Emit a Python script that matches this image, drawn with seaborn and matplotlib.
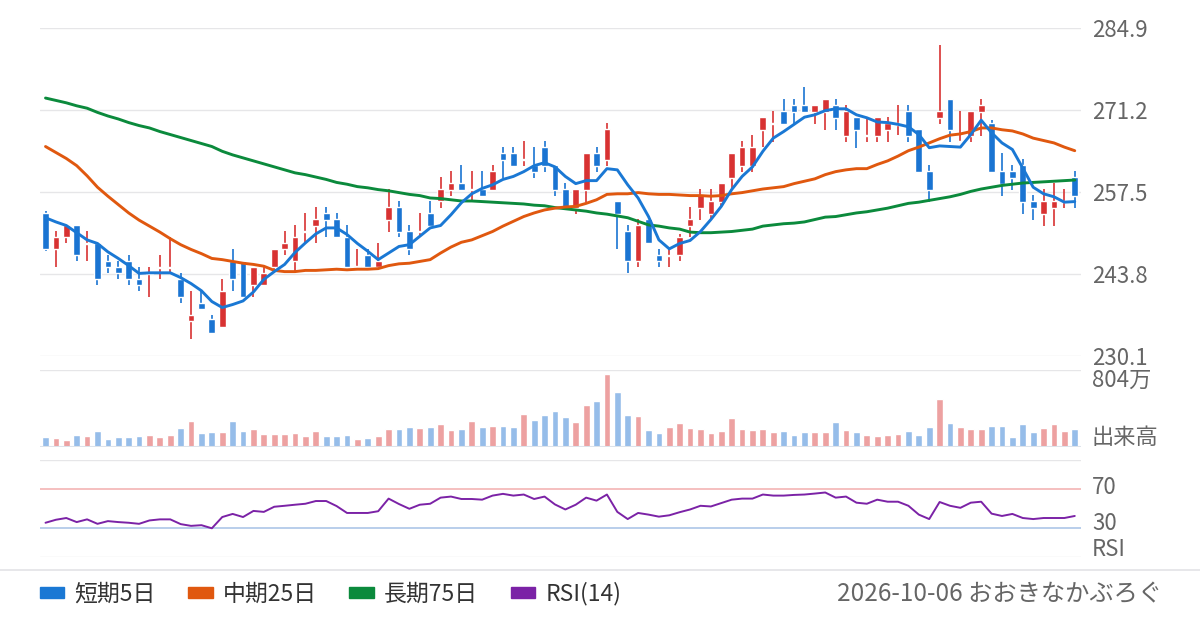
import numpy as np
import seaborn as sns
import matplotlib.pyplot as plt
from matplotlib.patches import Patch
from matplotlib.lines import Line2D

# 日足 (始値, 高値, 安値, 終値)
opens = [254.0, 247.9, 249.9, 252.0, 248.8, 249.0, 246.0, 245.0, 246.0, 243.0,
         243.8, 244.8, 244.8, 243.0, 236.0, 239.0, 236.2, 235.0, 246.0, 246.0,
         241.9, 241.9, 245.0, 247.9, 245.9, 250.8, 251.9, 254.0, 253.0, 250.0,
         244.9, 247.0, 244.9, 252.9, 255.0, 251.0, 250.8, 254.0, 256.0, 257.9,
         259.0, 257.8, 258.0, 257.9, 264.0, 264.0, 262.8, 262.0, 265.0, 262.0,
         258.0, 254.9, 257.9, 264.0, 262.9, 256.0, 251.0, 245.9, 253.0, 247.0,
         246.8, 246.9, 251.9, 254.9, 253.9, 255.9, 259.9, 261.9, 261.9, 267.9,
         268.8, 271.0, 272.0, 272.0, 270.9, 270.9, 272.0, 266.9, 270.0, 266.8,
         266.9, 267.9, 268.7, 271.0, 268.0, 261.0, 269.9, 273.0, 265.8, 266.9,
         270.9, 269.0, 261.0, 261.0, 262.0, 256.0, 253.9, 254.9, 255.8, 260.0]
highs = [254.3, 251.0, 252.0, 252.0, 251.0, 249.0, 247.0, 245.9, 247.0, 245.0,
         245.0, 247.0, 250.0, 243.9, 241.0, 241.0, 237.0, 243.0, 248.0, 246.0,
         245.0, 245.0, 248.0, 251.0, 252.0, 254.0, 255.0, 255.0, 254.0, 252.0,
         248.0, 248.0, 249.0, 258.0, 256.0, 252.0, 254.0, 256.0, 260.0, 261.0,
         262.0, 261.0, 261.0, 262.0, 265.0, 265.0, 266.0, 265.0, 266.0, 262.0,
         259.0, 258.0, 264.0, 265.0, 269.0, 256.0, 252.0, 253.0, 253.0, 248.0,
         248.0, 250.5, 255.0, 258.0, 258.0, 259.0, 264.0, 266.0, 267.0, 270.0,
         271.0, 273.0, 273.0, 275.1, 272.0, 273.0, 273.0, 272.0, 270.0, 270.0,
         270.0, 270.0, 272.0, 272.0, 268.0, 262.0, 282.0, 273.0, 271.0, 271.0,
         273.0, 269.5, 264.0, 262.0, 263.0, 257.0, 258.0, 259.0, 258.0, 261.0]
lows = [247.6, 244.9, 248.9, 245.9, 245.9, 241.9, 243.9, 242.9, 241.9, 240.9,
        239.9, 242.9, 243.9, 238.9, 233.0, 237.9, 234.0, 235.0, 240.9, 239.9,
        239.9, 241.9, 244.0, 246.9, 243.9, 248.9, 248.9, 249.9, 249.9, 244.9,
        244.8, 244.9, 244.9, 250.9, 249.9, 246.9, 249.9, 251.9, 254.9, 256.9,
        257.9, 256.0, 256.9, 257.9, 259.9, 261.9, 261.9, 259.9, 260.9, 256.9,
        254.9, 253.9, 255.9, 260.9, 261.9, 247.9, 243.9, 244.9, 248.9, 244.9,
        244.9, 246.0, 250.0, 252.9, 252.9, 255.0, 258.0, 260.9, 260.9, 265.0,
        265.9, 268.9, 268.9, 270.9, 268.9, 267.9, 267.9, 265.9, 264.9, 265.9,
        265.9, 265.9, 267.0, 265.9, 260.9, 255.9, 268.9, 265.9, 265.8, 265.9,
        266.9, 260.9, 256.9, 257.9, 253.9, 252.9, 251.9, 251.9, 254.9, 254.9]
closes = [247.9, 250.0, 252.0, 246.9, 249.0, 242.9, 244.9, 243.9, 242.9, 241.9,
          243.9, 244.9, 244.9, 239.9, 237.0, 237.9, 234.0, 241.0, 242.9, 239.9,
          245.0, 244.0, 248.0, 249.0, 250.0, 250.9, 253.0, 252.9, 249.9, 244.9,
          245.0, 244.9, 246.0, 255.0, 250.9, 247.9, 250.9, 251.9, 258.0, 259.0,
          257.9, 258.0, 256.9, 261.0, 262.9, 261.9, 262.9, 260.9, 261.9, 257.9,
          254.9, 258.0, 264.0, 261.9, 268.0, 253.9, 245.9, 252.0, 248.9, 245.9,
          246.9, 250.0, 253.0, 257.0, 256.0, 259.0, 264.0, 265.0, 265.0, 270.0,
          268.9, 268.9, 270.9, 270.9, 272.0, 273.0, 269.9, 271.0, 267.9, 266.9,
          270.0, 269.0, 269.0, 266.9, 260.9, 257.9, 271.0, 267.9, 266.0, 271.0,
          272.0, 260.9, 258.9, 259.9, 255.9, 254.9, 256.0, 256.0, 255.9, 256.9]

# 出来高 (万株)
volume = [112, 100, 78, 134, 123, 179, 89, 112, 112, 123,
          134, 112, 134, 212, 290, 156, 167, 167, 290, 179,
          201, 145, 145, 145, 156, 123, 179, 123, 123, 134,
          89, 100, 123, 201, 201, 223, 212, 223, 257, 190,
          201, 290, 223, 234, 234, 223, 368, 301, 357, 391,
          335, 279, 458, 502, 804, 603, 357, 346, 190, 156,
          223, 268, 212, 201, 156, 179, 324, 201, 190, 201,
          167, 179, 134, 167, 167, 167, 279, 190, 167, 134,
          123, 134, 145, 179, 134, 223, 525, 268, 223, 201,
          201, 234, 234, 112, 257, 167, 212, 257, 179, 201]

# 移動平均
ma5 = [253.2, 252.5, 251.9, 250.7, 249.5, 248.9, 247.5, 246.4, 245.2, 243.9,
       244.0, 244.0, 244.0, 243.2, 242.2, 241.0, 239.2, 238.2, 238.7, 239.3,
       240.8, 242.9, 244.2, 245.4, 247.4, 249.0, 250.5, 251.5, 251.5, 250.4,
       248.9, 247.6, 246.2, 247.3, 248.4, 248.7, 250.1, 251.5, 251.9, 253.7,
       255.7, 257.2, 258.1, 258.7, 259.6, 260.1, 260.9, 261.9, 262.4, 261.7,
       260.1, 258.9, 259.4, 259.4, 261.4, 261.2, 258.7, 256.5, 253.4, 249.5,
       248.0, 248.9, 249.4, 250.9, 252.9, 255.1, 257.9, 260.1, 261.7, 264.3,
       266.5, 267.6, 268.8, 270.0, 270.4, 271.1, 271.4, 271.4, 270.4, 269.9,
       269.2, 269.1, 268.8, 268.4, 267.1, 264.9, 265.2, 265.1, 265.0, 267.1,
       269.5, 267.4, 265.7, 264.6, 261.5, 258.3, 257.2, 256.7, 255.8, 255.9]
ma25 = [265.1, 264.1, 263.1, 261.9, 260.2, 258.3, 256.8, 255.4, 254.0, 252.8,
        251.8, 250.8, 249.7, 248.7, 247.9, 247.2, 246.4, 246.2, 245.9, 245.6,
        245.4, 245.1, 244.4, 244.2, 244.2, 244.4, 244.4, 244.5, 244.6, 244.5,
        244.6, 244.6, 244.7, 245.2, 245.5, 245.6, 245.9, 246.2, 247.3, 248.3,
        249.1, 249.5, 250.2, 250.9, 251.8, 252.6, 253.4, 254.0, 254.5, 254.8,
        255.0, 255.1, 255.6, 256.2, 257.1, 257.2, 257.2, 257.4, 257.2, 257.1,
        257.1, 257.0, 256.9, 256.9, 256.8, 256.9, 257.2, 257.4, 257.7, 258.0,
        258.2, 258.4, 258.9, 259.3, 259.7, 260.4, 260.9, 261.2, 261.4, 261.4,
        262.1, 262.7, 263.5, 264.4, 265.0, 265.7, 266.4, 267.0, 267.2, 267.6,
        268.2, 268.2, 267.9, 267.7, 267.2, 266.5, 266.1, 265.7, 265.0, 264.4]
ma75 = [273.2, 272.8, 272.4, 271.9, 271.5, 270.8, 270.2, 269.7, 269.1, 268.6,
        268.2, 267.6, 267.1, 266.6, 266.1, 265.6, 265.1, 264.3, 263.7, 263.2,
        262.7, 262.2, 261.7, 261.2, 260.7, 260.4, 260.0, 259.6, 259.1, 258.8,
        258.4, 258.2, 257.9, 257.7, 257.4, 257.1, 256.9, 256.5, 256.4, 256.2,
        256.0, 256.0, 255.9, 255.8, 255.7, 255.6, 255.5, 255.3, 255.2, 254.9,
        254.7, 254.5, 254.3, 254.0, 253.8, 253.5, 253.2, 252.6, 252.0, 251.8,
        251.5, 251.3, 250.8, 250.7, 250.7, 250.8, 250.9, 251.1, 251.3, 251.8,
        252.0, 252.2, 252.3, 252.5, 252.9, 253.3, 253.4, 253.7, 254.0, 254.2,
        254.5, 254.8, 255.2, 255.6, 255.8, 256.1, 256.4, 256.7, 257.1, 257.6,
        258.0, 258.3, 258.6, 258.8, 259.0, 259.1, 259.2, 259.3, 259.4, 259.5]

rsi14 = [35.3, 38.4, 40.2, 36.0, 38.8, 34.2, 37.0, 36.0, 35.3, 34.2,
         37.7, 38.8, 38.8, 33.9, 32.1, 32.8, 29.6, 41.2, 44.4, 41.2,
         47.5, 46.5, 51.8, 52.8, 53.9, 54.9, 57.7, 57.7, 52.5, 45.4,
         45.4, 45.4, 47.2, 60.2, 54.6, 49.7, 53.9, 54.9, 61.2, 62.3,
         59.8, 59.8, 59.1, 63.3, 65.1, 63.3, 64.4, 59.8, 62.3, 54.2,
         49.0, 53.9, 61.2, 58.1, 64.4, 46.5, 39.1, 45.4, 43.7, 41.6,
         43.0, 46.2, 49.0, 52.8, 52.1, 55.6, 59.1, 60.2, 60.2, 64.4,
         63.3, 63.3, 64.0, 64.4, 65.4, 66.5, 61.2, 62.3, 56.0, 54.9,
         59.1, 57.0, 57.0, 52.8, 43.7, 39.1, 56.7, 52.8, 50.7, 56.0,
         57.0, 44.7, 42.3, 44.4, 40.2, 39.1, 40.2, 40.2, 40.2, 42.3]

price_ticks = [230.1, 243.8, 257.5, 271.2, 284.9]
rsi_levels = [70, 30]
volume_max_label = "804万"
date_label = "2026-10-06"
site_label = "おおきなかぶろぐ"

UP = "#d83232"
DOWN = "#1a74d2"
UP_VOL = "#eda1a1"
DOWN_VOL = "#96bde9"
C_MA5 = "#1a78d4"
C_MA25 = "#e0580f"
C_MA75 = "#0b8a3c"
C_RSI = "#7b22a6"
GRID = "#e6e6e8"
TXT = "#666666"
LBL = 16

sns.set_theme(style="white")
plt.rcParams['font.family'] = ['Noto Sans CJK JP', 'DejaVu Sans']

W, H = 1200, 630
fig = plt.figure(figsize=(W / 100, H / 100), dpi=100)


def add_ax(top, bottom, left=40, right=1081):
    return fig.add_axes([left / W, 1 - bottom / H, (right - left) / W, (bottom - top) / H])


def right_label(y_px, s):
    fig.text(1092 / W, 1 - y_px / H, s, ha='left', va='center', fontsize=LBL, color=TXT)


idx = np.arange(len(closes))
xlim = (-0.53, len(closes) - 0.4)
o = np.array(opens)
c = np.array(closes)
up = c >= o

# --- ローソク足 + 移動平均 ---
ax = add_ax(28, 356)
for y in price_ticks:
    ax.axhline(y, color=GRID, lw=1, zorder=0)
ax.vlines(idx, lows, highs, color=np.where(up, UP, DOWN), lw=1.2, zorder=2)
body_lo = np.minimum(o, c)
body_h = np.maximum(np.abs(c - o), 0.25)
ax.bar(idx, body_h, bottom=body_lo, width=0.65, color=np.where(up, UP, DOWN), zorder=3)
sns.lineplot(x=idx, y=ma75, ax=ax, color=C_MA75, lw=2.1, zorder=4)
sns.lineplot(x=idx, y=ma25, ax=ax, color=C_MA25, lw=2.1, zorder=4)
sns.lineplot(x=idx, y=ma5, ax=ax, color=C_MA5, lw=2.1, zorder=5)
ax.set_xlim(*xlim)
ax.set_ylim(price_ticks[0], price_ticks[-1])
ax.yaxis.tick_right()
ax.set_yticks(price_ticks)
ax.set_yticklabels([f"{t:.1f}" for t in price_ticks])
ax.tick_params(axis='y', length=0, pad=8, labelsize=LBL, labelcolor=TXT)
ax.set_xticks([])
ax.set_xlabel("")
ax.set_ylabel("")
sns.despine(ax=ax, left=True, bottom=True, right=True, top=True)

# --- 出来高 ---
vtop = max(volume) * 77 / 73
axv = add_ax(370, 447)
axv.bar(idx, volume, width=0.65, color=np.where(up, UP_VOL, DOWN_VOL), zorder=2)
axv.axhline(vtop, color=GRID, lw=1, zorder=0)
axv.axhline(0, color="#dde3ea", lw=1.5, zorder=3)
axv.set_xlim(*xlim)
axv.set_ylim(0, vtop)
axv.set_xticks([])
axv.set_yticks([])
sns.despine(ax=axv, left=True, bottom=True, right=True, top=True)
right_label(380, volume_max_label)
right_label(438, "出来高")

# --- RSI ---
axr = add_ax(460, 557)
axr.axhline(100, color=GRID, lw=1, zorder=0)
axr.axhline(rsi_levels[0], color="#f3b4b4", lw=1.2, zorder=1)
axr.axhline(rsi_levels[1], color="#adc6e8", lw=1.2, zorder=1)
axr.axhline(0, color=GRID, lw=1, zorder=1)
sns.lineplot(x=idx, y=rsi14, ax=axr, color=C_RSI, lw=1.4, zorder=3)
axr.set_xlim(*xlim)
axr.set_ylim(0, 100)
axr.set_xticks([])
axr.set_yticks([])
axr.set_xlabel("")
axr.set_ylabel("")
sns.despine(ax=axr, left=True, bottom=True, right=True, top=True)
right_label(488, str(rsi_levels[0]))
right_label(524, str(rsi_levels[1]))
right_label(550, "RSI")

# --- 凡例 ---
fig.add_artist(Line2D([0, 1], [1 - 570 / H] * 2, color="#e3e3e6", lw=1.2))
handles = [Patch(color=C_MA5, label="短期5日"),
           Patch(color=C_MA25, label="中期25日"),
           Patch(color=C_MA75, label="長期75日"),
           Patch(color=C_RSI, label="RSI(14)")]
fig.legend(handles=handles, loc='center left', bbox_to_anchor=(19 / W, 1 - 594 / H),
           ncol=4, frameon=False, fontsize=16.5, handlelength=1.08, handleheight=0.35,
           handletextpad=0.43, columnspacing=1.42, labelcolor="#333333")
fig.text(1162 / W, 1 - 594 / H, f"{date_label} {site_label}", ha='right', va='center',
         fontsize=17.5, color=TXT)

fig.savefig("out.png", dpi=100)
